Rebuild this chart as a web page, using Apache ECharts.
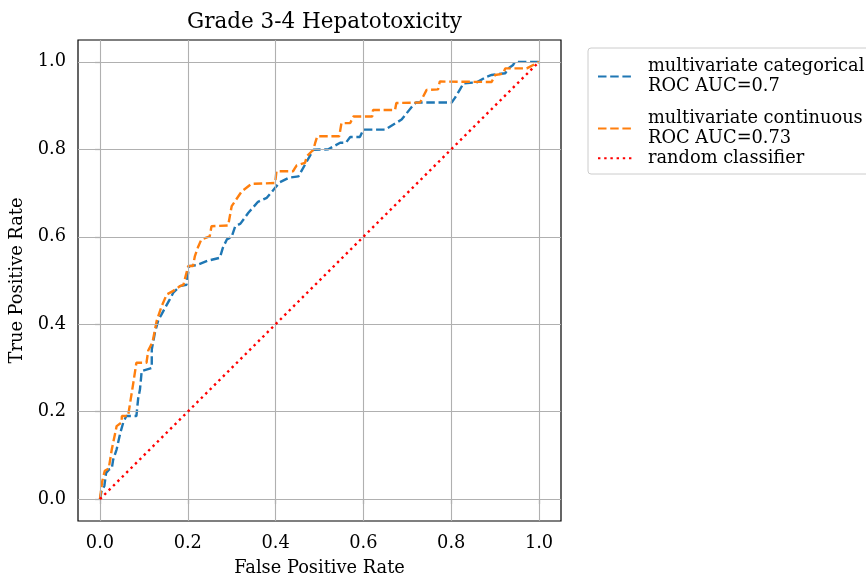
<!DOCTYPE html>
<html>
<head>
<meta charset="utf-8">
<script src="https://cdn.jsdelivr.net/npm/echarts@6/dist/echarts.min.js"></script>
<style>html,body{margin:0;padding:0;background:#fff;}#c{width:866px;height:577px;}</style>
</head>
<body>
<div id="c"></div>
<script>
const titleText = 'Grade 3-4 Hepatotoxicity';
const xName = 'False Positive Rate';
const yName = 'True Positive Rate';
const tickValues = [0, 0.2, 0.4, 0.6, 0.8, 1.0];

const catName = 'multivariate categorical\nROC AUC=0.7';
const catFpr = [0,0.004,0.01,0.014,0.021,0.027,0.03,0.038,0.046,0.053,0.06,0.083,0.087,0.091,0.093,0.095,0.118,0.118,0.125,0.133,0.14,0.159,0.167,0.182,0.197,0.203,0.22,0.245,0.273,0.28,0.289,0.3,0.308,0.32,0.338,0.36,0.38,0.399,0.41,0.43,0.452,0.467,0.486,0.52,0.547,0.56,0.57,0.592,0.6,0.649,0.687,0.714,0.72,0.801,0.808,0.82,0.828,0.858,0.881,0.892,0.923,0.93,0.941,0.945,1.0];
const catTpr = [0,0.02,0.03,0.06,0.068,0.07,0.09,0.114,0.15,0.175,0.19,0.19,0.23,0.25,0.27,0.293,0.30,0.342,0.38,0.41,0.422,0.457,0.472,0.487,0.49,0.533,0.535,0.545,0.552,0.575,0.594,0.6,0.624,0.63,0.655,0.68,0.689,0.712,0.725,0.735,0.738,0.765,0.799,0.80,0.815,0.815,0.828,0.828,0.845,0.845,0.868,0.902,0.907,0.907,0.917,0.937,0.951,0.953,0.966,0.97,0.974,0.985,0.993,1.0,1.0];

const conName = 'multivariate continuous\nROC AUC=0.73';
const conFpr = [0,0.005,0.011,0.02,0.027,0.038,0.049,0.05,0.064,0.076,0.083,0.106,0.11,0.12,0.129,0.14,0.152,0.165,0.182,0.19,0.201,0.212,0.216,0.224,0.231,0.25,0.254,0.292,0.3,0.323,0.345,0.399,0.402,0.44,0.444,0.448,0.467,0.471,0.486,0.49,0.495,0.545,0.55,0.57,0.577,0.62,0.622,0.672,0.675,0.729,0.744,0.77,0.774,0.892,0.9,0.918,0.923,0.972,1.0];
const conTpr = [0,0.04,0.065,0.07,0.114,0.167,0.175,0.19,0.19,0.266,0.312,0.312,0.34,0.36,0.407,0.44,0.468,0.475,0.487,0.49,0.533,0.533,0.555,0.578,0.594,0.601,0.624,0.626,0.67,0.704,0.721,0.723,0.75,0.75,0.757,0.763,0.769,0.784,0.799,0.814,0.83,0.83,0.86,0.86,0.875,0.875,0.89,0.89,0.906,0.907,0.936,0.937,0.955,0.954,0.97,0.973,0.985,0.985,1.0];

const randName = 'random classifier';
const randFpr = [0, 1];
const randTpr = [0, 1];

const font = 'DejaVu Serif';
const fs = 17.8;
const zip = (a, b) => a.map((v, i) => [v, b[i]]);

const chart = echarts.init(document.getElementById('c'), null, {renderer: 'canvas'});
const gridLineData = tickValues.map(v => ({xAxis: v})).concat(tickValues.map(v => ({yAxis: v})));

const legendText = {fontFamily: font, fontSize: fs, color: '#000', lineHeight: 20.5, padding: [0, 0, 0, 10]};
const legendSymbol = {opacity: 0, color: 'transparent', borderWidth: 0};

const option = {
  backgroundColor: '#fff',
  animation: false,
  textStyle: {fontFamily: font},
  title: {
    text: titleText, left: 319.5, top: 6, textAlign: 'center',
    textStyle: {fontFamily: font, fontSize: 21.5, fontWeight: 'normal', color: '#000'}
  },
  grid: {left: 78, top: 40, width: 483, height: 481, containLabel: false, outerBoundsMode: 'none', show: true, borderColor: '#000', borderWidth: 1.2, backgroundColor: 'transparent'},
  legend: [
    {
      left: 588, top: 48, orient: 'vertical',
      data: [catName, conName],
      itemWidth: 35, itemHeight: 14, itemGap: 11,
      itemStyle: legendSymbol,
      padding: [8, 12, 25, 9],
      borderColor: '#ccc', borderWidth: 1, borderRadius: 3,
      textStyle: legendText,
      selectedMode: false
    },
    {
      left: 588, top: 148, orient: 'vertical',
      data: [randName],
      itemWidth: 35, itemHeight: 14,
      itemStyle: legendSymbol,
      padding: [0, 12, 0, 9],
      textStyle: legendText,
      selectedMode: false
    }
  ],
  xAxis: {
    type: 'value', min: -0.05, max: 1.05,
    name: xName, nameLocation: 'middle', nameGap: 38,
    nameTextStyle: {fontFamily: font, fontSize: fs, color: '#000'},
    axisLine: {show: false},
    splitLine: {show: false},
    axisTick: {show: true, customValues: tickValues, length: 5, lineStyle: {color: '#000', width: 1.1}},
    axisLabel: {customValues: tickValues, formatter: v => v.toFixed(1), margin: 13, fontFamily: font, fontSize: fs, color: '#000'}
  },
  yAxis: {
    type: 'value', min: -0.05, max: 1.05,
    name: yName, nameLocation: 'middle', nameGap: 52, nameRotate: 90, nameMoveOverlap: false,
    nameTextStyle: {fontFamily: font, fontSize: fs, color: '#000'},
    axisLine: {show: false},
    splitLine: {show: false},
    axisTick: {show: true, customValues: tickValues, length: 5, lineStyle: {color: '#000', width: 1.1}},
    axisLabel: {customValues: tickValues, formatter: v => v.toFixed(1), margin: 12, fontFamily: font, fontSize: fs, color: '#000'}
  },
  series: [
    {
      name: '_grid', type: 'line', data: [], z: 1, silent: true,
      markLine: {
        silent: true, symbol: 'none', label: {show: false},
        lineStyle: {color: '#b0b0b0', width: 1.1, type: 'solid'},
        emphasis: {disabled: true},
        data: gridLineData
      }
    },
    {
      name: catName, type: 'line', data: zip(catFpr, catTpr), showSymbol: false, symbol: 'none', z: 3,
      color: '#1f77b4',
      lineStyle: {color: '#1f77b4', width: 2.4, type: [8.5, 3.7]}
    },
    {
      name: conName, type: 'line', data: zip(conFpr, conTpr), showSymbol: false, symbol: 'none', z: 4,
      color: '#ff7f0e',
      lineStyle: {color: '#ff7f0e', width: 2.4, type: [8.5, 3.7]}
    },
    {
      name: randName, type: 'line', data: zip(randFpr, randTpr), showSymbol: false, symbol: 'none', z: 5,
      color: '#ff0000',
      lineStyle: {color: '#ff0000', width: 2.4, type: [2.4, 3.8]}
    }
  ]
};
chart.setOption(option);
</script>
</body>
</html>
